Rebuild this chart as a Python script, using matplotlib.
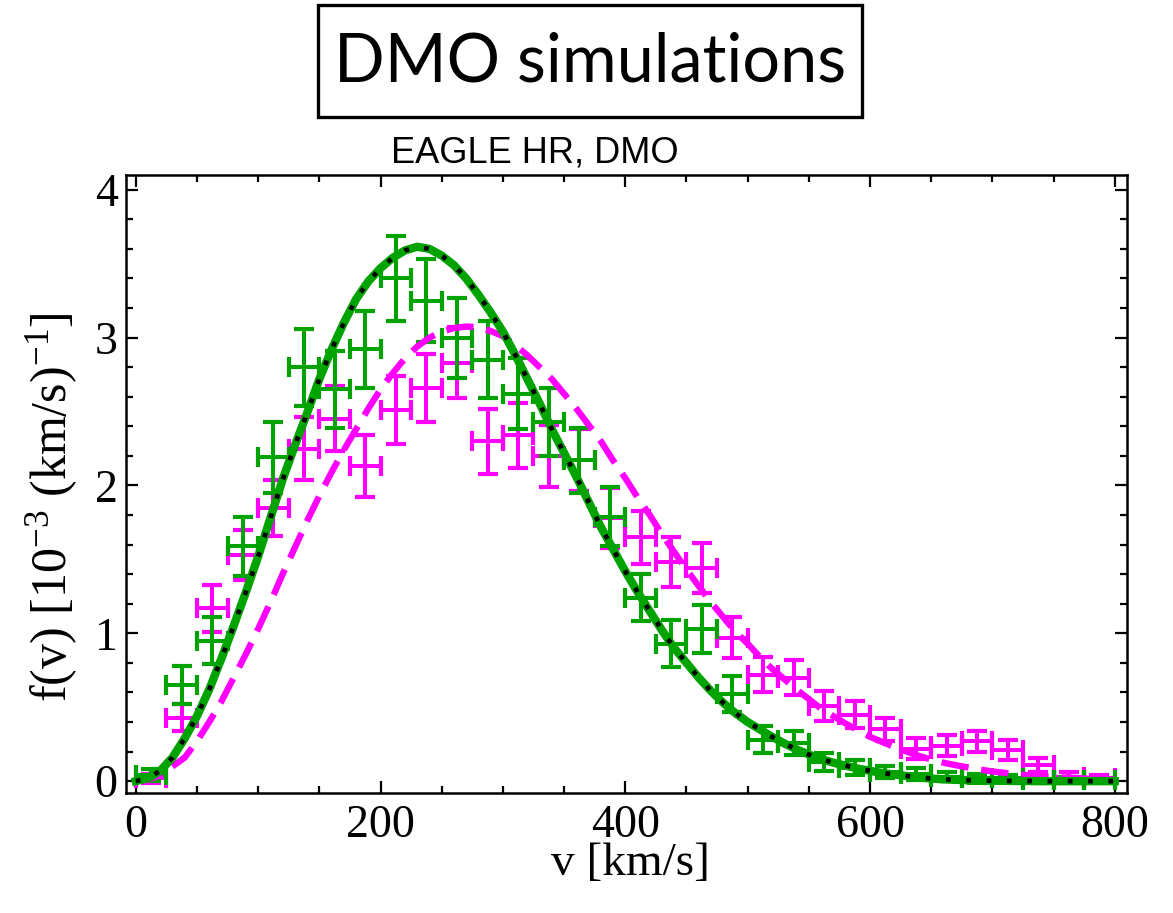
import numpy as np
import matplotlib; matplotlib.use("Agg")
import matplotlib.pyplot as plt
from matplotlib.patches import Rectangle
from matplotlib.ticker import MultipleLocator

plt.rcParams['mathtext.fontset'] = 'custom'
plt.rcParams['mathtext.rm'] = 'Liberation Serif'
plt.rcParams['mathtext.it'] = 'Liberation Serif:italic'

# ---- data (v in km/s, f in 1e-3 (km/s)^-1) ----
v_bins = [12.5, 37.5, 62.5, 87.5, 112.5, 137.5, 162.5, 187.5, 212.5, 237.5,
          262.5, 287.5, 312.5, 337.5, 362.5, 387.5, 412.5, 437.5, 462.5, 487.5,
          512.5, 537.5, 562.5, 587.5, 612.5, 637.5, 662.5, 687.5, 712.5, 737.5,
          762.5, 787.5]
v_halfwidth = 12.5

f_green = [0.04, 0.65, 0.95, 1.59, 2.19, 2.80, 2.65, 2.92, 3.40, 3.25,
           3.00, 2.85, 2.62, 2.43, 2.17, 1.79, 1.24, 0.93, 1.03, 0.59,
           0.28, 0.26, 0.13, 0.09, 0.06, 0.05, 0.03, 0.02, 0.02, 0.01,
           0.01, 0.005]
e_green = [0.04, 0.13, 0.16, 0.20, 0.24, 0.26, 0.26, 0.26, 0.29, 0.28,
           0.27, 0.26, 0.24, 0.23, 0.22, 0.20, 0.16, 0.16, 0.16, 0.12,
           0.09, 0.08, 0.06, 0.05, 0.04, 0.04, 0.03, 0.03, 0.02, 0.02,
           0.02, 0.01]

f_magenta = [0.02, 0.43, 1.17, 1.53, 1.85, 2.25, 2.45, 2.13, 2.51, 2.66,
             2.83, 2.30, 2.34, 2.20, 2.17, 1.78, 1.65, 1.48, 1.44, 0.97,
             0.72, 0.70, 0.51, 0.45, 0.35, 0.22, 0.24, 0.27, 0.21, 0.11,
             0.03, 0.02]
e_magenta = [0.03, 0.09, 0.16, 0.17, 0.19, 0.21, 0.22, 0.21, 0.23, 0.23,
             0.24, 0.22, 0.22, 0.21, 0.21, 0.20, 0.18, 0.17, 0.17, 0.14,
             0.12, 0.12, 0.10, 0.09, 0.08, 0.07, 0.07, 0.07, 0.07, 0.05,
             0.03, 0.02]

# fitted curves, read every 10 km/s
v_curve = list(range(0, 801, 10))
f_fit = [0.0, 0.02, 0.07, 0.16, 0.29, 0.44, 0.62, 0.83, 1.05, 1.28,
         1.52, 1.78, 2.04, 2.27, 2.49, 2.72, 2.92, 3.10, 3.26, 3.38,
         3.47, 3.54, 3.59, 3.615, 3.60, 3.555, 3.49, 3.40, 3.29, 3.17,
         3.04, 2.885, 2.72, 2.555, 2.38, 2.22, 2.06, 1.89, 1.72, 1.57,
         1.42, 1.28, 1.15, 1.02, 0.90, 0.80, 0.70, 0.61, 0.53, 0.46,
         0.40, 0.35, 0.30, 0.255, 0.215, 0.18, 0.15, 0.125, 0.105, 0.085,
         0.07, 0.055, 0.045, 0.035, 0.025, 0.018, 0.012, 0.009, 0.006, 0.004,
         0.003, 0.002, 0.001, 0.001, 0.0, 0.0, 0.0, 0.0, 0.0, 0.0, 0.0]
f_shm = [0.0, 0.01, 0.04, 0.10, 0.16, 0.27, 0.40, 0.54, 0.70, 0.86,
         1.03, 1.21, 1.40, 1.58, 1.76, 1.93, 2.09, 2.24, 2.38, 2.52,
         2.65, 2.76, 2.86, 2.94, 3.00, 3.04, 3.065, 3.075, 3.07, 3.045,
         3.01, 2.95, 2.88, 2.80, 2.72, 2.62, 2.52, 2.41, 2.30, 2.17,
         2.05, 1.92, 1.80, 1.67, 1.55, 1.43, 1.32, 1.21, 1.11, 1.01,
         0.93, 0.84, 0.76, 0.69, 0.62, 0.555, 0.49, 0.44, 0.39, 0.345,
         0.30, 0.265, 0.23, 0.20, 0.17, 0.147, 0.125, 0.108, 0.093, 0.078,
         0.066, 0.056, 0.047, 0.040, 0.034, 0.028, 0.024, 0.020, 0.016, 0.013,
         0.011]

GREEN = '#00a300'
MAGENTA = '#ff00ff'

fig = plt.figure(figsize=(11.73, 9.13), dpi=100)
ax = fig.add_axes([126/1173, 1-793/913, (1127-126)/1173, (793-175)/913])

eb = dict(fmt='none', elinewidth=2.9, capsize=7.5, capthick=3.0)
ax.errorbar(v_bins, f_magenta, yerr=e_magenta, xerr=v_halfwidth, ecolor=MAGENTA, zorder=2, **eb)
ax.errorbar(v_bins, f_green, yerr=e_green, xerr=v_halfwidth, ecolor=GREEN, zorder=3, **eb)

ax.plot(v_curve, f_shm, color=MAGENTA, lw=4.6, dashes=(4.3, 2.0), dash_capstyle='butt', zorder=4)
ax.plot(v_curve, f_fit, color=GREEN, lw=6.0, solid_joinstyle='round', zorder=5)
ax.plot(v_curve, f_fit, color='black', lw=3.4, dashes=(1.0, 3.3), dash_capstyle='butt', zorder=6)

ax.set_xlim(-8, 810)
ax.set_ylim(-0.08, 4.1)
ax.xaxis.set_major_locator(MultipleLocator(200))
ax.xaxis.set_minor_locator(MultipleLocator(50))
ax.yaxis.set_major_locator(MultipleLocator(1))
ax.yaxis.set_minor_locator(MultipleLocator(0.2))
ax.tick_params(which='both', direction='in', top=True, right=True, width=1.6, colors='black')
ax.tick_params(which='major', length=8.5)
ax.tick_params(which='minor', length=5)
ax.tick_params(axis='x', pad=8)
ax.tick_params(axis='y', pad=6)
for s in ax.spines.values():
    s.set_linewidth(1.8)
for lab in ax.get_xticklabels() + ax.get_yticklabels():
    lab.set_fontfamily('Liberation Serif')
    lab.set_fontsize(33)

fig.text(630/1173, 1-864/913, 'v [km/s]', family='Liberation Serif', fontsize=34,
         ha='center', va='center')
fig.text(52/1173, 1-507/913, r'f(v) [10$^{-3}$ (km/s)$^{-1}$]', family='Liberation Serif',
         fontsize=36, rotation=90, ha='center', va='center')
fig.text(535/1173, 1-153/913, 'EAGLE HR, DMO', family='Liberation Sans', fontsize=26,
         ha='center', va='center')

fig.patches.append(Rectangle((318/1173, 1-117/913), (862-318)/1173, 112/913,
                             transform=fig.transFigure, fill=False, lw=2.4, ec='black'))
fig.text(590/1173, 1-62/913, 'DMO simulations', family='Lato', fontsize=48,
         ha='center', va='center')

fig.savefig('out.png', dpi=100)
